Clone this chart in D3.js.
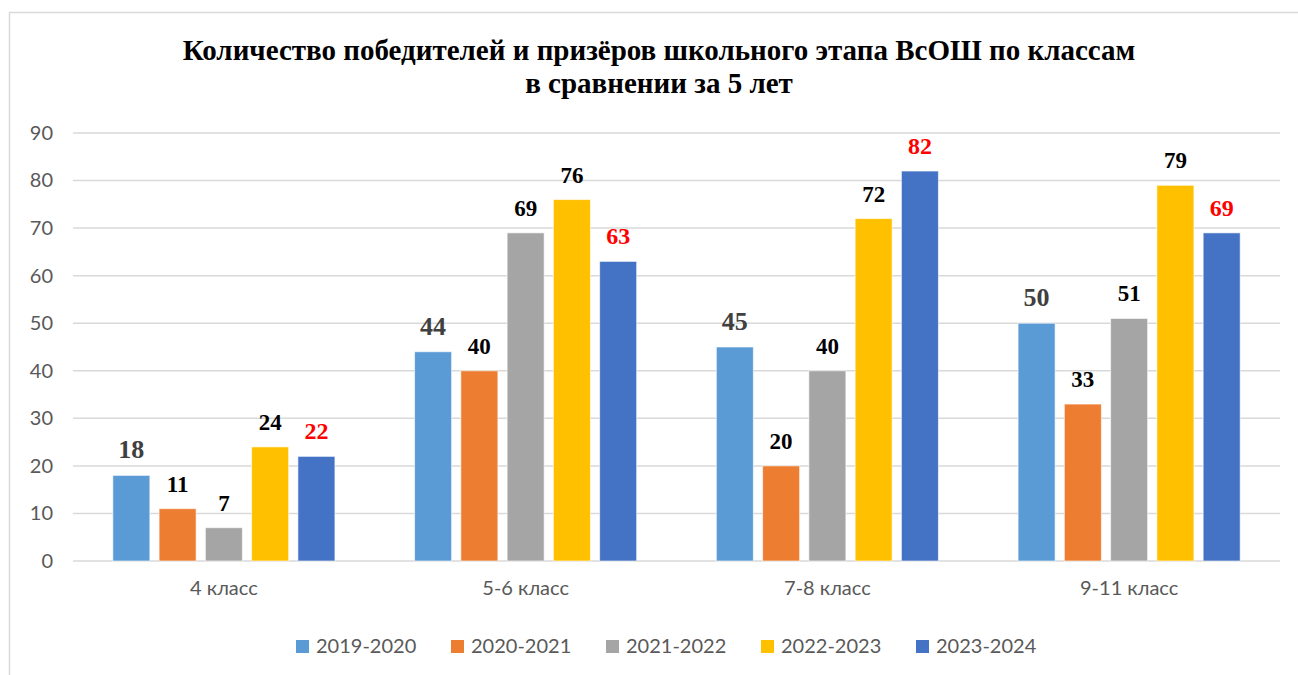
<!DOCTYPE html>
<html>
<head>
<meta charset="utf-8">
<script src="https://cdn.jsdelivr.net/npm/d3@7"></script>
<style>
  body { margin: 0; background: #fff; }
</style>
</head>
<body>
<div id="chart"></div>
<script>
// Данные
const categories = ['4 класс', '5-6 класс', '7-8 класс', '9-11 класс'];
const seriesNames = ['2019-2020', '2020-2021', '2021-2022', '2022-2023', '2023-2024'];
const values2019 = [18, 44, 45, 50];
const values2020 = [11, 40, 20, 33];
const values2021 = [7, 69, 40, 51];
const values2022 = [24, 76, 72, 79];
const values2023 = [22, 63, 82, 69];
const yTicks = [0, 10, 20, 30, 40, 50, 60, 70, 80, 90];

const seriesValues = [values2019, values2020, values2021, values2022, values2023];
const colors = ['#5B9BD5', '#ED7D31', '#A5A5A5', '#FFC000', '#4472C4'];
const labelColors = ['#404040', '#000000', '#000000', '#000000', '#FF0000'];
const labelSizes = [26, 23, 23, 23, 24];

const W = 1298, H = 675;
const plot = { left: 73, right: 1280, top: 133, bottom: 561 };

const svg = d3.select('#chart')
    .append('svg')
    .attr('width', W)
    .attr('height', H);

// рамка (правый и нижний край за пределами картинки)
svg.append('rect')
    .attr('x', 9.5).attr('y', 12.5)
    .attr('width', 1300).attr('height', 700)
    .attr('fill', '#fff')
    .attr('stroke', '#D9D9D9')
    .attr('stroke-width', 1.5);

// Заголовок
const title = svg.append('text')
    .attr('text-anchor', 'middle')
    .style('font-family', '"Liberation Serif", "Times New Roman", serif')
    .style('font-weight', 'bold')
    .style('font-size', '29px')
    .attr('fill', '#000');
title.append('tspan').attr('x', 659).attr('y', 60)
    .text('Количество победителей и призёров школьного этапа ВсОШ по классам');
title.append('tspan').attr('x', 659).attr('y', 93)
    .text('в сравнении за 5 лет');

const y = d3.scaleLinear().domain([0, 90]).range([plot.bottom, plot.top]);

const x0 = d3.scaleBand()
    .domain(categories)
    .range([plot.left, plot.right])
    .paddingInner(0.264)
    .paddingOuter(0.132);

const x1 = d3.scaleBand()
    .domain(seriesNames)
    .range([0, x0.bandwidth()])
    .paddingInner(0.2)
    .paddingOuter(0);

// сетка
svg.append('g')
    .selectAll('line')
    .data(yTicks)
    .join('line')
    .attr('x1', plot.left).attr('x2', plot.right)
    .attr('y1', d => y(d)).attr('y2', d => y(d))
    .attr('stroke', '#D9D9D9')
    .attr('stroke-width', 1.5);

// ось Y
const yAxis = svg.append('g')
    .attr('transform', `translate(${plot.left - 20},0)`)
    .call(d3.axisLeft(y).tickValues(yTicks).tickSize(0).tickPadding(0));
yAxis.select('.domain').remove();
yAxis.selectAll('text')
    .style('font-family', 'Lato, "Open Sans", sans-serif')
    .style('font-size', '20px')
    .attr('fill', '#595959');

// ось X
const xAxis = svg.append('g')
    .attr('transform', `translate(0,${plot.bottom})`)
    .call(d3.axisBottom(x0).tickSize(0).tickPadding(20));
xAxis.select('.domain').remove();
xAxis.selectAll('text')
    .style('font-family', 'Lato, "Open Sans", sans-serif')
    .style('font-size', '20px')
    .attr('fill', '#595959');

// столбцы
const rows = [];
seriesNames.forEach((s, si) => {
    categories.forEach((c, ci) => {
        rows.push({ series: s, si, cat: c, value: seriesValues[si][ci] });
    });
});

svg.append('g')
    .selectAll('rect')
    .data(rows)
    .join('rect')
    .attr('x', d => x0(d.cat) + x1(d.series))
    .attr('y', d => y(d.value))
    .attr('width', x1.bandwidth())
    .attr('height', d => y(0) - y(d.value))
    .attr('fill', d => colors[d.si])
    .attr('stroke', 'rgba(255,255,255,0.6)')
    .attr('stroke-width', 1);

// подписи значений
svg.append('g')
    .selectAll('text')
    .data(rows)
    .join('text')
    .attr('x', d => x0(d.cat) + x1(d.series) + x1.bandwidth() / 2)
    .attr('y', d => y(d.value) - 17)
    .attr('text-anchor', 'middle')
    .style('font-family', '"Liberation Serif", "Times New Roman", serif')
    .style('font-weight', 'bold')
    .style('font-size', d => labelSizes[d.si] + 'px')
    .attr('fill', d => labelColors[d.si])
    .text(d => d.value);

// легенда
const legend = svg.append('g')
    .selectAll('g')
    .data(seriesNames)
    .join('g')
    .attr('transform', (d, i) => `translate(${296 + i * 155},646)`);
legend.append('rect')
    .attr('x', 0).attr('y', -6)
    .attr('width', 13).attr('height', 13)
    .attr('fill', (d, i) => colors[i]);
legend.append('text')
    .attr('x', 20).attr('y', 0)
    .attr('dy', '0.35em')
    .style('font-family', 'Lato, "Open Sans", sans-serif')
    .style('font-size', '20px')
    .attr('fill', '#595959')
    .text(d => d);
</script>
</body>
</html>
